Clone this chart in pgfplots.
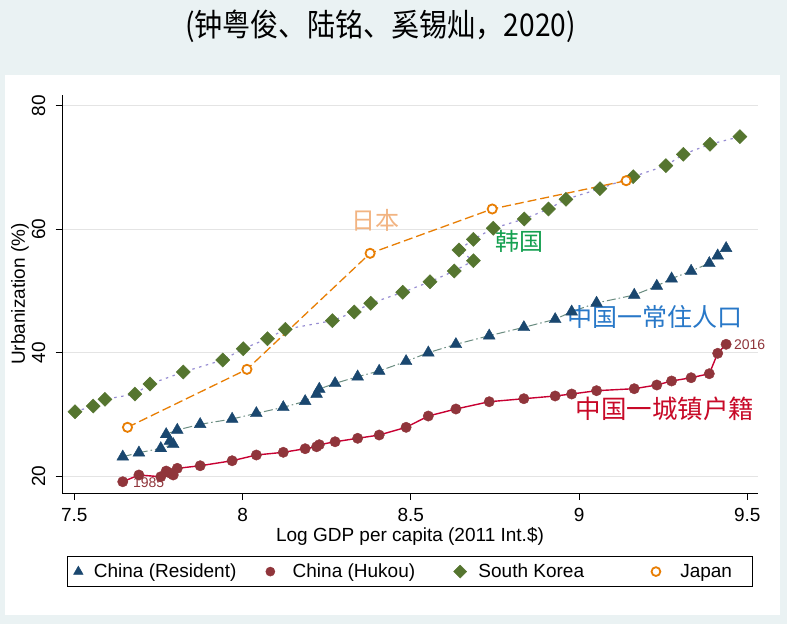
\documentclass[border=0pt]{standalone}
\usepackage{fontspec}
\setmainfont{Liberation Sans}
\newfontfamily\cjk{Noto Sans CJK SC}
\usepackage{pgfplots}
\pgfplotsset{compat=1.18}
\usepackage{pgfplotstable}

\definecolor{bgc}{RGB}{234,242,243}
\definecolor{navyc}{RGB}{26,71,111}
\definecolor{resline}{RGB}{106,140,128}
\definecolor{maroonc}{RGB}{144,53,59}
\definecolor{hukline}{RGB}{200,0,50}
\definecolor{korc}{RGB}{85,117,47}
\definecolor{korline}{RGB}{150,140,210}
\definecolor{japc}{RGB}{232,126,4}
\definecolor{gridc}{RGB}{228,228,228}
\definecolor{jptext}{RGB}{242,180,130}
\definecolor{krtext}{RGB}{20,160,80}
\definecolor{restext}{RGB}{40,120,200}
\definecolor{huktext}{RGB}{200,10,40}

\pgfplotstableread{
year x res hukou
1985 7.644 23.13 19.08
1986 7.692 23.78 20.17
1987 7.757 24.49 19.89
1988 7.794 25.14 20.17
1989 7.784 25.68 20.49
1990 7.773 26.76 20.81
1991 7.806 27.46 21.25
1992 7.874 28.39 21.67
1993 7.969 29.25 22.48
1994 8.041 30.17 23.41
1995 8.121 31.14 23.85
1996 8.186 32.12 24.43
1997 8.220 33.30 24.75
1998 8.228 34.11 25.08
1999 8.275 35.03 25.56
2000 8.342 36.11 26.12
2001 8.406 37.03 26.65
2002 8.486 38.60 27.90
2003 8.552 40.00 29.73
2004 8.634 41.36 30.87
2005 8.733 42.75 32.05
2006 8.836 44.11 32.54
2007 8.929 45.41 32.98
2008 8.978 46.64 33.30
2009 9.052 48.06 33.84
2010 9.164 49.35 34.16
2011 9.231 50.81 34.76
2012 9.275 52.00 35.41
2013 9.333 53.24 35.94
2014 9.387 54.49 36.59
2015 9.412 55.73 39.90
2016 9.437 56.93 41.36
}\china

\pgfplotstableread{
x y
7.502 30.43
7.556 31.35
7.591 32.44
7.680 33.30
7.725 34.92
7.824 36.87
7.941 38.81
8.002 40.65
8.074 42.27
8.127 43.79
8.267 45.19
8.332 46.60
8.381 48.01
8.476 49.79
8.557 51.51
8.629 53.24
8.686 54.91
8.643 56.65
8.686 58.38
8.745 60.17
8.837 61.68
8.909 63.30
8.961 64.87
9.062 66.59
9.161 68.54
9.258 70.32
9.310 72.17
9.389 73.79
9.478 75.02
}\korea

\pgfplotstableread{
x y
7.658 27.90
8.013 37.30
8.379 56.11
8.742 63.30
9.140 67.89
}\japan

\begin{document}
\begin{tikzpicture}
\fill[bgc] (0pt,0pt) rectangle (787pt,-624pt);
\fill[white] (5pt,-75pt) rectangle (780pt,-615pt);
\node[font=\cjk\fontsize{29}{32}\selectfont] at (380.5pt,-26pt) {\scalebox{0.97}[1.08]{(钟粤俊、陆铭、奚锡灿，2020)}};
\begin{axis}[
  at={(62pt,-493pt)}, anchor=south west,
  scale only axis, width=696pt, height=398pt,
  xmin=7.4634, xmax=9.5318, ymin=17.25, ymax=81.78,
  axis lines*=left,
  axis line style={line width=1pt, black},
  xtick={7.5,8,8.5,9,9.5}, ytick={20,40,60,80},
  tick align=outside, major tick length=6.5pt,
  every tick/.style={black, line width=1pt},
  ymajorgrids, grid style={gridc, line width=1pt},
  /pgf/number format/assume math mode=true,
  tick label style={font=\fontsize{19}{22}\selectfont},
  xticklabel style={inner sep=0pt, anchor=north},
  xticklabel shift=9pt,
  yticklabel style={rotate=90, anchor=south, inner sep=0pt},
  yticklabel shift=10pt,
  xlabel={Log GDP per capita (2011 Int.\$)},
  ylabel={Urbanization (\%)},
  label style={font=\fontsize{19}{22}\selectfont},
  x label style={at={(axis description cs:0.5,-0.109)}, anchor=center},
  y label style={at={(axis description cs:-0.0603,0.5)}, anchor=center},
  clip=false,
  legend columns=4,
  legend image code/.code={\path (0pt,0pt) (17pt,0pt); \draw[#1] plot coordinates {(8.5pt,0pt)};},
  legend style={at={(0.5,0)}, anchor=north, yshift=-63pt, draw=black, line width=0.9pt, fill=white, inner xsep=2pt, inner ysep=4.5pt, font=\fontsize{19}{22}\selectfont, cells={anchor=west}, nodes={inner xsep=0pt, inner ysep=3pt}, column sep=0pt},
]
\addplot[resline, line width=1pt, dash pattern=on 9pt off 3pt on 1.5pt off 3pt, mark=triangle*, mark size=6.8pt, mark options={solid, fill=navyc, draw=navyc, line width=0.4pt}, forget plot] table[x=x, y=res] {\china};
\addplot[hukline, line width=1.4pt, mark=*, mark size=5.2pt, mark options={solid, fill=maroonc, draw=maroonc, line width=0.4pt}, forget plot] table[x=x, y=hukou] {\china};
\addplot[korline, line width=1.2pt, dash pattern=on 2.5pt off 4.5pt, mark=square*, mark size=5pt, mark options={solid, rotate=45, fill=korc, draw=korc, line width=0.4pt}, forget plot] table[x=x, y=y] {\korea};
\addplot[japc, line width=1.3pt, dash pattern=on 9pt off 4pt, mark=*, mark size=4.6pt, mark options={solid, fill=white, draw=japc, line width=1.8pt}, forget plot] table[x=x, y=y] {\japan};

\addlegendimage{mark=triangle*, mark size=5.5pt, mark options={fill=navyc, draw=navyc, line width=0.4pt}}
\addlegendentry{\makebox[174.1pt][l]{\hspace{6.6pt}China (Resident)}}
\addlegendimage{mark=*, mark size=4.6pt, mark options={fill=maroonc, draw=maroonc, line width=0.4pt}}
\addlegendentry{\makebox[171.9pt][l]{\hspace{13.4pt}China (Hukou)}}
\addlegendimage{mark=square*, mark size=4.6pt, mark options={rotate=45, fill=korc, draw=korc, line width=0.4pt}}
\addlegendentry{\makebox[177.9pt][l]{\hspace{9.4pt}South Korea}}
\addlegendimage{mark=*, mark size=4.4pt, mark options={fill=white, draw=japc, line width=1.8pt}}
\addlegendentry{\makebox[85.7pt][l]{\hspace{15.4pt}Japan}}

\node[font=\cjk\fontsize{24}{26}\selectfont, text=jptext] at (axis cs:8.394,61.51) {日本};
\node[font=\cjk\fontsize{24}{26}\selectfont, text=krtext] at (axis cs:8.822,58.0) {韩国};
\node[font=\cjk\fontsize{25}{27}\selectfont, text=restext] at (axis cs:9.226,45.83) {中国一常住人口};
\node[font=\cjk\fontsize{25.5}{27}\selectfont, text=huktext] at (axis cs:9.255,30.98) {中国一城镇户籍};
\node[font=\fontsize{14}{16}\selectfont, text=maroonc, anchor=west, inner sep=0pt] at (axis cs:7.674,18.87) {1985};
\node[font=\fontsize{14}{16}\selectfont, text=maroonc, anchor=west, inner sep=0pt] at (axis cs:9.460,41.25) {2016};
\end{axis}
\end{tikzpicture}
\end{document}
